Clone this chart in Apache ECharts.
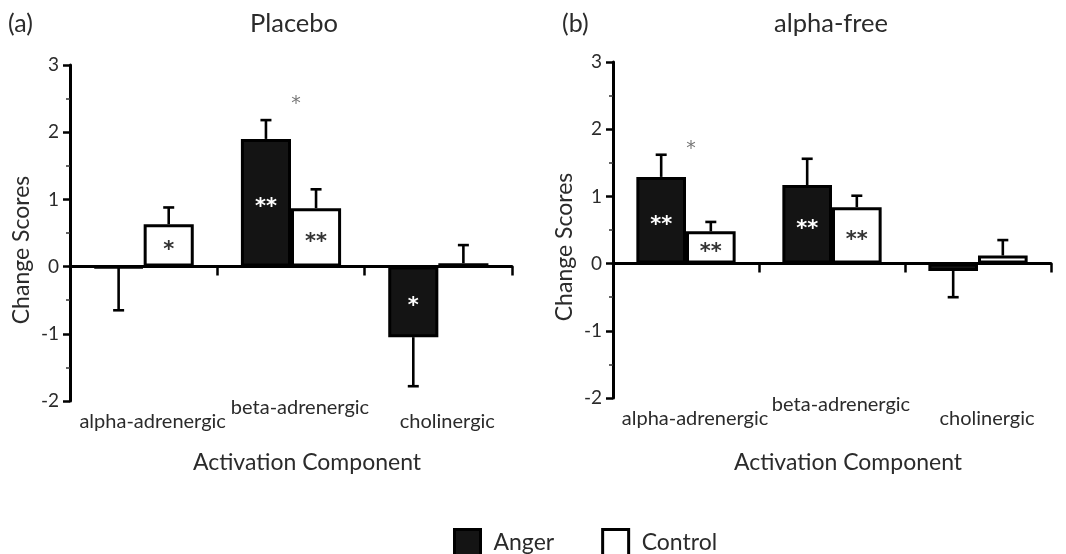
<!DOCTYPE html>
<html>
<head>
<meta charset="utf-8">
<script src="https://cdn.jsdelivr.net/npm/echarts@6/dist/echarts.min.js"></script>
<style>
html,body{margin:0;padding:0;background:#fff;}
#chart{width:1066px;height:554px;}
</style>
</head>
<body>
<div id="chart"></div>
<script>
// ---- data ----
const categories = ['alpha-adrenergic', 'beta-adrenergic', 'cholinergic'];
const placeboAnger = [-0.02, 1.90, -1.05];
const placeboAngerErrEnd = [-0.65, 2.18, -1.78];
const placeboControl = [0.63, 0.87, 0.05];
const placeboControlErrEnd = [0.88, 1.15, 0.32];
const alphaFreeAnger = [1.29, 1.17, -0.11];
const alphaFreeAngerErrEnd = [1.62, 1.56, -0.50];
const alphaFreeControl = [0.48, 0.84, 0.12];
const alphaFreeControlErrEnd = [0.62, 1.01, 0.35];
const placeboAngerSig = ['', '**', '*'];
const placeboControlSig = ['*', '**', ''];
const alphaFreeAngerSig = ['**', '**', ''];
const alphaFreeControlSig = ['**', '**', ''];
const placeboPairSig = [[1, 2.48, '*']];
const alphaFreePairSig = [[0, 1.76, '*']];
const yTicks = {min: -2, max: 3, step: 1};
const panelTitles = ['Placebo', 'alpha-free'];
const panelTags = ['(a)', '(b)'];
const xAxisTitle = 'Activation Component';
const yAxisTitle = 'Change Scores';
const seriesNames = ['Anger', 'Control'];

// ---- styles ----
const FONT = 'Lato';
const STAR_FONT = 'DejaVu Sans';
const TXT = '#2b2b2b';
const BAR_W = 0.34;
const FILLS = ['#141414', '#fff'];

const chart = echarts.init(document.getElementById('chart'), null, {renderer: 'canvas'});

function errSeries(name, xi, yi, values, ends, side) {
  return {
    type: 'custom', name: name, xAxisIndex: xi, yAxisIndex: yi, z: 5,
    data: values.map((v, i) => [i, v, ends[i]]),
    renderItem: function (params, api) {
      const cat = api.value(0);
      const p0 = api.coord([cat, api.value(1)]);
      const p1 = api.coord([cat, api.value(2)]);
      const bw = api.size([1, 0])[0];
      const x = p0[0] + side * bw * BAR_W / 2;
      const cap = 5.5;
      const st = {stroke: '#000', lineWidth: 2.6};
      return {
        type: 'group', children: [
          {type: 'line', shape: {x1: x, y1: p0[1], x2: x, y2: p1[1]}, style: st},
          {type: 'line', shape: {x1: x - cap, y1: p1[1], x2: x + cap, y2: p1[1]}, style: st}
        ]
      };
    }
  };
}

function barSeries(name, xi, yi, values, sig, fill, labelColor) {
  return {
    type: 'bar', name: name, xAxisIndex: xi, yAxisIndex: yi,
    data: values, barWidth: (BAR_W * 100) + '%', barGap: '0%',
    itemStyle: {color: fill, borderColor: '#000', borderWidth: 3},
    label: {
      show: true, position: 'inside',
      formatter: p => sig[p.dataIndex],
      color: labelColor, fontFamily: STAR_FONT, fontSize: 21, fontWeight: 'bold',
      offset: [0, 5]
    },
    z: 3
  };
}

function starSeries(xi, yi, data) {
  return {
    type: 'scatter', xAxisIndex: xi, yAxisIndex: yi, symbolSize: 0, z: 6,
    data: data.map(d => [d[0], d[1]]),
    label: {
      show: true, position: 'inside', formatter: p => data[p.dataIndex][2],
      color: '#555', fontFamily: STAR_FONT, fontSize: 19, offset: [5, 4]
    },
    silent: true
  };
}

function lineXAxis(gi) {
  return {
    type: 'category', gridIndex: gi, data: categories, position: 'bottom',
    axisLine: {show: true, onZero: true, lineStyle: {color: '#000', width: 3}},
    axisTick: {show: true, length: 9, lineStyle: {color: '#000', width: 2.5}},
    axisLabel: {show: false}, splitLine: {show: false}
  };
}

function labelXAxis(gi, gap) {
  return {
    type: 'category', gridIndex: gi, data: categories, position: 'bottom',
    axisLine: {show: false, onZero: false}, axisTick: {show: false},
    splitLine: {show: false},
    axisLabel: {
      show: true, margin: -3, interval: 0,
      formatter: (v, i) => (i === 1 ? '{hi|' + v + '}' : '{lo|' + v + '}'),
      rich: {
        hi: {fontFamily: FONT, fontSize: 20, color: TXT, padding: [0, 0, 0, 18]},
        lo: {fontFamily: FONT, fontSize: 20, color: TXT, padding: [14, 0, 0, 18]}
      }
    },
    name: xAxisTitle, nameLocation: 'middle', nameGap: gap,
    nameTextStyle: {fontFamily: FONT, fontSize: 23, color: TXT, padding: [0, 0, 0, 32]}
  };
}

function yAxis(gi) {
  return {
    type: 'value', gridIndex: gi, min: yTicks.min, max: yTicks.max, interval: yTicks.step,
    axisLine: {show: true, lineStyle: {color: '#000', width: 3}},
    axisTick: {show: true, length: 7, lineStyle: {color: '#000', width: 2.5}},
    minorTick: {show: true, splitNumber: 2, length: 4, lineStyle: {color: '#333', width: 1.5}},
    splitLine: {show: false}, minorSplitLine: {show: false},
    axisLabel: {fontFamily: FONT, fontSize: 19, color: TXT, margin: 11},
    name: yAxisTitle, nameLocation: 'middle', nameGap: 37, nameRotate: 90,
    nameTextStyle: {fontFamily: FONT, fontSize: 23, color: TXT, padding: [0, 34, 0, 0]}
  };
}

const option = {
  backgroundColor: '#fff',
  animation: false,
  title: [
    {text: panelTags[0], left: 3, top: 6, textStyle: {fontFamily: FONT, fontSize: 25, fontWeight: 'normal', color: TXT}},
    {text: panelTitles[0], left: 289, top: 6, textAlign: 'center', textStyle: {fontFamily: FONT, fontSize: 25.5, fontWeight: 'normal', color: TXT}},
    {text: panelTags[1], left: 557, top: 6, textStyle: {fontFamily: FONT, fontSize: 25, fontWeight: 'normal', color: TXT}},
    {text: panelTitles[1], left: 826, top: 6, textAlign: 'center', textStyle: {fontFamily: FONT, fontSize: 25.5, fontWeight: 'normal', color: TXT}}
  ],
  legend: {
    data: seriesNames.map((n, i) => ({name: n, itemStyle: {color: FILLS[i], borderColor: '#000', borderWidth: 3}})),
    left: 453, top: 525, padding: 0, itemWidth: 26, itemHeight: 26, itemGap: 47,
    icon: 'rect',
    textStyle: {fontFamily: FONT, fontSize: 23, lineHeight: 26, color: TXT, padding: [0, 0, 9, 8]},
    selectedMode: false
  },
  grid: [
    {left: 70, top: 65, right: 554, bottom: 153, outerBoundsMode: 'none', containLabel: false},
    {left: 613, top: 62, right: 15, bottom: 156, outerBoundsMode: 'none', containLabel: false}
  ],
  xAxis: [lineXAxis(0), labelXAxis(0, 50), lineXAxis(1), labelXAxis(1, 53)],
  yAxis: [yAxis(0), yAxis(1)],
  series: [
    barSeries(seriesNames[0], 0, 0, placeboAnger, placeboAngerSig, FILLS[0], '#fff'),
    barSeries(seriesNames[1], 0, 0, placeboControl, placeboControlSig, FILLS[1], '#333'),
    errSeries('placeboAngerErr', 0, 0, placeboAnger, placeboAngerErrEnd, -1),
    errSeries('placeboControlErr', 0, 0, placeboControl, placeboControlErrEnd, 1),
    starSeries(0, 0, placeboPairSig),
    barSeries(seriesNames[0], 2, 1, alphaFreeAnger, alphaFreeAngerSig, FILLS[0], '#fff'),
    barSeries(seriesNames[1], 2, 1, alphaFreeControl, alphaFreeControlSig, FILLS[1], '#333'),
    errSeries('alphaFreeAngerErr', 2, 1, alphaFreeAnger, alphaFreeAngerErrEnd, -1),
    errSeries('alphaFreeControlErr', 2, 1, alphaFreeControl, alphaFreeControlErrEnd, 1),
    starSeries(2, 1, alphaFreePairSig)
  ]
};
chart.setOption(option);
</script>
</body>
</html>
